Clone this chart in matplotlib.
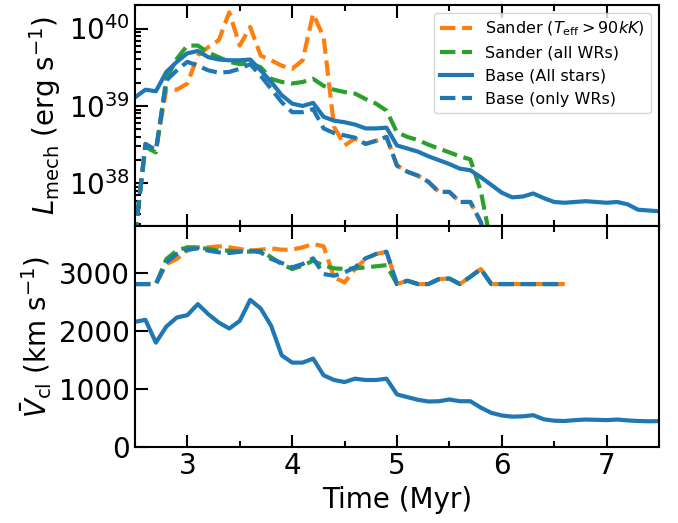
import numpy as np
import matplotlib
matplotlib.use("Agg")
import matplotlib.pyplot as plt
from matplotlib.ticker import MultipleLocator, LogLocator, NullFormatter

# ---------------- data ----------------
time_all = [2.5, 2.6, 2.7, 2.8, 2.9, 3.0, 3.1, 3.2, 3.3, 3.4, 3.5, 3.6, 3.7, 3.8, 3.9,
            4.0, 4.1, 4.2, 4.3, 4.4, 4.5, 4.6, 4.7, 4.8, 4.9, 5.0, 5.1, 5.2, 5.3, 5.4,
            5.5, 5.6, 5.7, 5.8, 5.9, 6.0, 6.1, 6.2, 6.3, 6.4, 6.5, 6.6, 6.7, 6.8, 6.9,
            7.0, 7.1, 7.2, 7.3, 7.4, 7.5]
time_wr_L = [2.5, 2.6, 2.7, 2.8, 2.9, 3.0, 3.1, 3.2, 3.3, 3.4, 3.5, 3.6, 3.7, 3.8, 3.9,
             4.0, 4.1, 4.2, 4.3, 4.4, 4.5, 4.6, 4.7, 4.8, 4.9, 5.0, 5.1, 5.2, 5.3, 5.4,
             5.5, 5.6, 5.7, 5.8, 5.9]
time_wr_V = [2.5, 2.6, 2.7, 2.8, 2.9, 3.0, 3.1, 3.2, 3.3, 3.4, 3.5, 3.6, 3.7, 3.8, 3.9,
             4.0, 4.1, 4.2, 4.3, 4.4, 4.5, 4.6, 4.7, 4.8, 4.9, 5.0, 5.1, 5.2, 5.3, 5.4,
             5.5, 5.6, 5.7, 5.8, 5.9, 6.0, 6.1, 6.2, 6.3, 6.4, 6.5, 6.6]

# log10 of L_mech (erg/s)
logL_base_all = [39.11, 39.21, 39.19, 39.44, 39.57, 39.68, 39.71, 39.63, 39.60, 39.59,
                 39.59, 39.60, 39.46, 39.31, 39.14, 39.03, 39.00, 39.04, 38.86, 38.81,
                 38.79, 38.76, 38.71, 38.71, 38.72, 38.49, 38.45, 38.41, 38.35, 38.30,
                 38.25, 38.19, 38.17, 38.08, 37.98, 37.88, 37.82, 37.83, 37.87, 37.81,
                 37.76, 37.75, 37.76, 37.77, 37.76, 37.75, 37.76, 37.73, 37.66, 37.65,
                 37.64]
logL_base_wr = [37.30, 38.51, 38.43, 39.33, 39.46, 39.57, 39.52, 39.46, 39.43, 39.44,
                39.48, 39.54, 39.39, 39.22, 39.05, 38.92, 38.92, 38.96, 38.71, 38.65,
                38.62, 38.59, 38.51, 38.55, 38.60, 38.23, 38.15, 38.10, 38.02, 37.89,
                37.89, 37.76, 37.76, 37.50, 37.00]
logL_sander_hot = [37.30, 38.51, 38.43, 39.22, 39.21, 39.29, 39.65, 39.76, 39.85, 40.21,
                   39.78, 40.02, 39.65, 39.59, 39.52, 39.48, 39.59, 40.19, 39.89, 38.73,
                   38.49, 38.58, 38.51, 38.55, 38.60, 38.23, 38.15, 38.10, 38.02, 37.89,
                   37.89, 37.76, 37.76, 37.50, 37.00]
logL_sander_all = [37.30, 38.47, 38.40, 39.35, 39.61, 39.78, 39.78, 39.69, 39.63, 39.57,
                   39.54, 39.55, 39.50, 39.35, 39.31, 39.29, 39.31, 39.35, 39.26, 39.21,
                   39.18, 39.16, 39.09, 39.03, 38.94, 38.66, 38.60, 38.56, 38.50, 38.45,
                   38.40, 38.35, 38.31, 37.90, 37.20]

# mean clumped velocity (km/s)
V_base_all = [2155, 2190, 1798, 2075, 2230, 2270, 2460, 2287, 2143, 2040,
              2172, 2534, 2385, 2086, 1580, 1454, 1454, 1523, 1236, 1155,
              1120, 1178, 1155, 1155, 1178, 908, 860, 815, 785, 790,
              820, 790, 790, 680, 590, 545, 525, 530, 550, 480,
              455, 450, 465, 475, 470, 465, 475, 460, 450, 445, 448]
V_base_wr = [2805, 2805, 2805, 3178, 3322, 3397, 3420, 3380, 3350, 3340,
             3360, 3380, 3350, 3236, 3167, 3092, 3150, 3247, 2977, 2948,
             3006, 3092, 3247, 3322, 3362, 2805, 2862, 2805, 2805, 2890,
             2900, 2805, 2930, 3063, 2805, 2805, 2805, 2805, 2805, 2805, 2805, 2805]
V_sander_hot = [2805, 2805, 2805, 3150, 3236, 3380, 3437, 3437, 3454, 3437,
                3408, 3380, 3396, 3420, 3396, 3396, 3437, 3494, 3454, 2919,
                2833, 3064, 3236, 3322, 3360, 2805, 2862, 2805, 2805, 2890,
                2900, 2805, 2930, 3063, 2805, 2805, 2805, 2805, 2805, 2805, 2805, 2805]
V_sander_all = [2805, 2805, 2805, 3236, 3380, 3437, 3437, 3408, 3380, 3380,
                3362, 3362, 3380, 3265, 3150, 3063, 3121, 3207, 3121, 3075,
                3064, 3075, 3092, 3110, 3130, 2805, 2862, 2805, 2805, 2890,
                2900, 2805, 2930, 3063, 2805, 2805, 2805, 2805, 2805, 2805, 2805, 2805]

labels = [r"Sander ($T_{\rm eff}>90kK$)", "Sander (all WRs)",
          "Base (All stars)", "Base (only WRs)"]

# ---------------- plot ----------------
C_OR, C_GR, C_BL = "#ff7f0e", "#2ca02c", "#1f77b4"
LW = 3.0
FS = 20

fig, (ax1, ax2) = plt.subplots(2, 1, figsize=(6.78, 5.23), dpi=100, sharex=True)
fig.subplots_adjust(left=0.199, right=0.972, top=0.990, bottom=0.145, hspace=0)

ax1.plot(time_wr_L, 10 ** np.array(logL_sander_hot), ls="--", color=C_OR, lw=LW, label=labels[0])
ax1.plot(time_wr_L, 10 ** np.array(logL_sander_all), ls="--", color=C_GR, lw=LW, label=labels[1])
ax1.plot(time_all, 10 ** np.array(logL_base_all), ls="-", color=C_BL, lw=LW, label=labels[2])
ax1.plot(time_wr_L, 10 ** np.array(logL_base_wr), ls="--", color=C_BL, lw=LW, label=labels[3])
ax1.set_yscale("log")
ax1.set_ylim(2.8e37, 2.0e40)
ax1.set_ylabel(r"$L_{\rm mech}$ (erg s$^{-1}$)", fontsize=FS)
ax1.yaxis.set_major_locator(LogLocator(base=10, numticks=10))
ax1.yaxis.set_minor_locator(LogLocator(base=10, subs=np.arange(2, 10) * 1.0, numticks=20))
ax1.yaxis.set_minor_formatter(NullFormatter())
ax1.legend(loc="upper right", fontsize=11.5, handlelength=2.0)

ax2.plot(time_wr_V, V_sander_hot, ls="--", color=C_OR, lw=LW)
ax2.plot(time_wr_V, V_sander_all, ls="--", color=C_GR, lw=LW)
ax2.plot(time_all, V_base_all, ls="-", color=C_BL, lw=LW)
ax2.plot(time_wr_V, V_base_wr, ls="--", color=C_BL, lw=LW)
ax2.set_ylim(0, 3800)
ax2.yaxis.set_major_locator(MultipleLocator(1000))
ax2.set_ylabel(r"$\bar{V}_{\rm cl}$ (km s$^{-1}$)", fontsize=FS)
ax2.set_xlabel("Time (Myr)", fontsize=FS)

ax2.set_xlim(2.5, 7.5)
ax2.xaxis.set_major_locator(MultipleLocator(1))
ax2.xaxis.set_minor_locator(MultipleLocator(0.5))

for ax in (ax1, ax2):
    ax.tick_params(which="both", direction="in", top=True, right=False, labelsize=FS, width=1.5)
    ax.tick_params(which="major", length=9)
    ax.tick_params(which="minor", length=4.5)
    for sp in ax.spines.values():
        sp.set_linewidth(1.5)

fig.savefig("out.png", dpi=100)
